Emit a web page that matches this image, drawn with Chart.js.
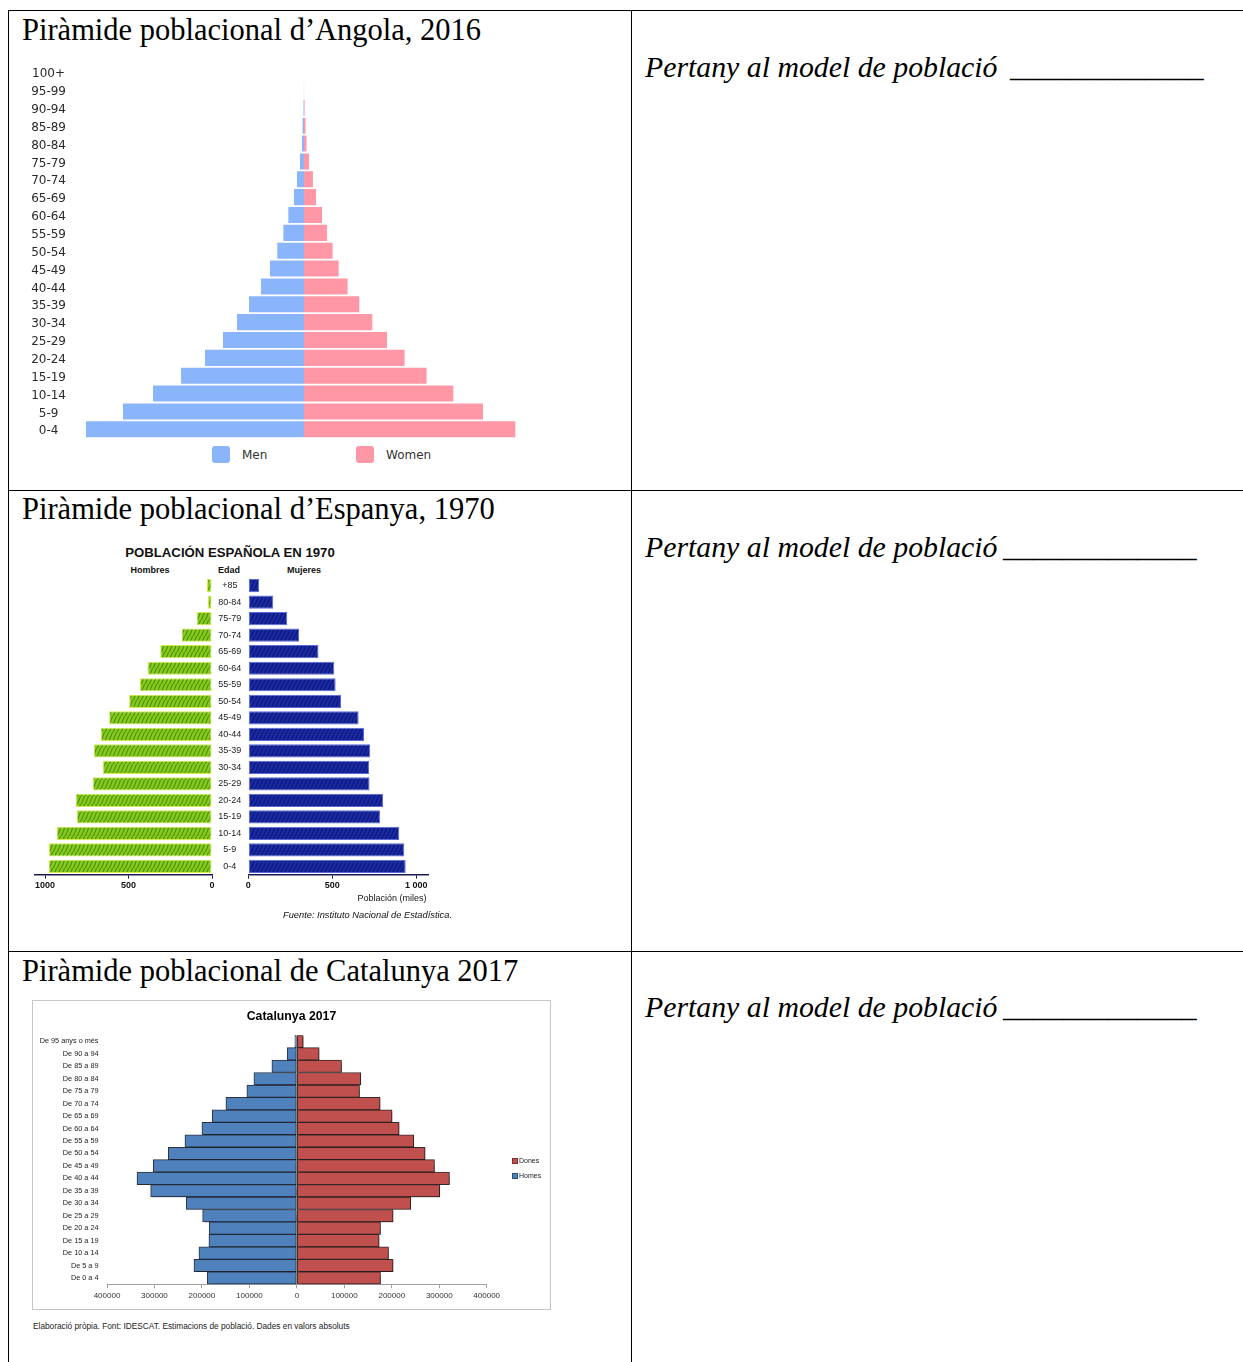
<!DOCTYPE html>
<html><head><meta charset="utf-8">
<script src="https://cdn.jsdelivr.net/npm/chart.js@4.4.1/dist/chart.umd.min.js"></script>
<style>
html,body{margin:0;padding:0;background:#fff;}
body{width:1243px;height:1362px;position:relative;overflow:hidden;font-family:"Liberation Sans",Arial,sans-serif;}
.ln{position:absolute;background:#000;}
.h{position:absolute;font-family:"Liberation Serif",serif;font-size:30.5px;line-height:30.5px;white-space:nowrap;color:#000;}
.q{position:absolute;font-family:"Liberation Serif",serif;font-style:italic;font-size:29.8px;line-height:29.8px;white-space:nowrap;color:#000;}
.t{position:absolute;white-space:nowrap;}
.box{position:absolute;}
.cw{position:absolute;}
</style></head><body>

<div class="ln" style="left:8px;top:10px;width:1235px;height:1px"></div>
<div class="ln" style="left:8px;top:10px;width:1px;height:1352px"></div>
<div class="ln" style="left:631px;top:10px;width:1px;height:1352px"></div>
<div class="ln" style="left:8px;top:490px;width:1235px;height:1px"></div>
<div class="ln" style="left:8px;top:951px;width:1235px;height:1px"></div>

<div class="h" style="left:22px;top:15px">Piràmide poblacional d’Angola, 2016</div>
<div class="h" style="left:22px;top:494px">Piràmide poblacional d’Espanya, 1970</div>
<div class="h" style="left:22px;top:956px">Piràmide poblacional de Catalunya 2017</div>

<div class="q" style="left:645px;top:52.3px">Pertany al model de població</div>
<div class="q" style="left:1010px;top:52.3px">_____________</div>
<div class="q" style="left:645px;top:532.3px">Pertany al model de població</div>
<div class="q" style="left:1003px;top:532.3px">_____________</div>
<div class="q" style="left:645px;top:992.3px">Pertany al model de població</div>
<div class="q" style="left:1003px;top:992.3px">_____________</div>

<!-- Angola -->
<div class="cw" style="left:20px;top:55.8px;width:510px;height:389.4px"><canvas id="cA"></canvas></div>
<div class="box" style="left:212px;top:446px;width:18px;height:17px;border-radius:3px;background:#8bb5fb"></div>
<div class="t" style="left:242px;top:447px;font:12px 'DejaVu Sans',sans-serif;line-height:16px;color:#333">Men</div>
<div class="box" style="left:356px;top:446px;width:18px;height:17px;border-radius:3px;background:#ff97a7"></div>
<div class="t" style="left:386px;top:447px;font:12px 'DejaVu Sans',sans-serif;line-height:16px;color:#333">Women</div>

<!-- Spain -->
<div class="t" style="left:100px;top:545px;width:260px;text-align:center;font:bold 13.2px 'Liberation Sans',Arial;line-height:16px;color:#111">POBLACIÓN ESPAÑOLA EN 1970</div>
<div class="t" style="left:110px;top:565px;width:80px;text-align:center;font:bold 9px 'Liberation Sans',Arial;line-height:10px;color:#111">Hombres</div>
<div class="t" style="left:199px;top:565px;width:60px;text-align:center;font:bold 9px 'Liberation Sans',Arial;line-height:10px;color:#111">Edad</div>
<div class="t" style="left:264px;top:565px;width:80px;text-align:center;font:bold 9px 'Liberation Sans',Arial;line-height:10px;color:#111">Mujeres</div>
<div class="cw" style="left:30px;top:571.6px;width:186px;height:324.7px"><canvas id="cEL"></canvas></div>
<div class="cw" style="left:212px;top:571.6px;width:228px;height:324.7px"><canvas id="cER"></canvas></div>
<div class="t" style="left:342px;top:893px;width:100px;text-align:center;font:9px 'Liberation Sans',Arial;line-height:10px;color:#111">Población (miles)</div>
<div class="t" style="left:283px;top:910px;font:italic 9.3px 'Liberation Sans',Arial;line-height:10px;color:#111">Fuente: Instituto Nacional de Estadística.</div>

<!-- Catalunya -->
<div class="box" style="left:32px;top:1000px;width:519px;height:310px;border:1px solid #c6c6c6;box-sizing:border-box"></div>
<div class="cw" style="left:33px;top:1001px;width:517px;height:308px"><canvas id="cC"></canvas></div>
<div class="box" style="left:512px;top:1158px;width:4px;height:4px;background:#c0504d;border:1px solid #7a2f2d"></div>
<div class="t" style="left:519px;top:1156px;font:7px 'Liberation Sans',Arial;line-height:9px;color:#222">Dones</div>
<div class="box" style="left:512px;top:1173px;width:4px;height:4px;background:#4f81bd;border:1px solid #2f4f75"></div>
<div class="t" style="left:519px;top:1171px;font:7px 'Liberation Sans',Arial;line-height:9px;color:#222">Homes</div>
<div class="t" style="left:33px;top:1321px;font:8.3px 'Liberation Sans',Arial;line-height:10px;color:#222">Elaboració pròpia. Font: IDESCAT. Estimacions de població. Dades en valors absoluts</div>

<script>
// ---------- Angola 2016 (thousands) ----------
const agesAngola = ['0-4','5-9','10-14','15-19','20-24','25-29','30-34','35-39','40-44','45-49','50-54','55-59','60-64','65-69','70-74','75-79','80-84','85-89','90-94','95-99','100+'];
const menAngola   = [2700,2242,1870,1523,1226,1003,830,681,533,421,331,256,194,124,87,50,25,17,6,1,0];
const womenAngola = [2617,2217,1849,1518,1246,1028,846,685,540,429,354,285,223,149,111,62,31,19,7,1,0];

// ---------- Espanya 1970 (miles) ----------
const agesSpain = ['0-4','5-9','10-14','15-19','20-24','25-29','30-34','35-39','40-44','45-49','50-54','55-59','60-64','65-69','70-74','75-79','80-84','+85'];
const menSpain   = [978,976,930,810,816,714,654,708,666,616,496,432,386,310,182,92,24,30];
const womenSpain = [937,929,899,784,802,722,720,726,689,657,552,520,512,418,302,232,149,65];
const spainTicks = [0,500,1000];

// ---------- Catalunya 2017 ----------
const agesCat = ['De 0 a 4','De 5 a 9','De 10 a 14','De 15 a 19','De 20 a 24','De 25 a 29','De 30 a 34','De 35 a 39','De 40 a 44','De 45 a 49','De 50 a 54','De 55 a 59','De 60 a 64','De 65 a 69','De 70 a 74','De 75 a 79','De 80 a 84','De 85 a 89','De 90 a 94','De 95 anys o més'];
const homesCat = [188800,216800,206300,185300,184600,198500,233100,308000,336800,302500,270900,235800,200000,178300,149500,105300,90500,52600,20400,4200];
const donesCat = [176200,202700,193100,173300,176200,202700,240000,301100,321500,289900,270100,246300,215400,200600,175400,132000,134700,94100,46900,13300];

Chart.defaults.animation = false;
Chart.defaults.responsive = true;
Chart.defaults.maintainAspectRatio = false;
Chart.defaults.plugins.tooltip.enabled = false;

// Angola
new Chart(document.getElementById('cA'), {
  type: 'bar',
  data: { labels: agesAngola, datasets: [
    { label: 'Men', data: menAngola.map(v => -v), backgroundColor: '#8bb5fb', borderWidth: 0, barPercentage: 0.9, categoryPercentage: 1 },
    { label: 'Women', data: womenAngola, backgroundColor: '#ff97a7', borderWidth: 0, barPercentage: 0.9, categoryPercentage: 1 }
  ]},
  options: {
    indexAxis: 'y',
    layout: { padding: { top: 0, bottom: 0, left: 0, right: 8 } },
    plugins: { legend: { display: false } },
    scales: {
      x: { stacked: true, min: -2700, max: 2700, display: false },
      y: { stacked: true, reverse: true,
           grid: { display: false, drawTicks: true, tickLength: 20 }, border: { display: false },
           ticks: { crossAlign: 'center', padding: 0, labelOffset: 2, color: '#2a2a2a', font: { family: 'DejaVu Sans', size: 12 }, autoSkip: false },
           afterFit: s => { s.width = 66; } }
    }
  }
});

// Spain patterns
function hatch(base, line) {
  const c = document.createElement('canvas'); c.width = 4; c.height = 8;
  const g = c.getContext('2d');
  g.fillStyle = base; g.fillRect(0, 0, 4, 8);
  g.strokeStyle = line; g.lineWidth = 1.2;
  g.beginPath(); g.moveTo(-1, 9); g.lineTo(3, -1); g.stroke();
  g.beginPath(); g.moveTo(3, 9); g.lineTo(7, -1); g.stroke();
  return g.createPattern(c, 'repeat');
}
const greenFill = hatch('#86cc1c', '#4f8f12');
const blueFill = hatch('#1b2ba8', '#0c1670');
const axisFont = { family: 'Liberation Sans', size: 9, weight: 'bold' };

new Chart(document.getElementById('cEL'), {
  type: 'bar',
  data: { labels: agesSpain, datasets: [
    { label: 'Hombres', data: menSpain, backgroundColor: greenFill, borderColor: '#d6ea4a', borderWidth: 1, borderSkipped: false, barPercentage: 0.8, categoryPercentage: 1 }
  ]},
  options: {
    indexAxis: 'y',
    layout: { padding: { top: 5.4, bottom: 0, left: 5, right: 4 } },
    plugins: { legend: { display: false } },
    scales: {
      x: { reverse: true, min: 0, max: 1060, afterBuildTicks: s => { s.ticks = spainTicks.map(v => ({ value: v })); },
           grid: { display: true, drawOnChartArea: false, tickLength: 4, color: '#1a1a50' },
           border: { display: true, color: '#1a1a50', width: 1.5 },
           ticks: { color: '#111', font: axisFont, padding: 1, maxRotation: 0, callback: v => String(v) },
           afterFit: s => { s.height = 22; } },
      y: { display: false, reverse: true }
    }
  }
});

new Chart(document.getElementById('cER'), {
  type: 'bar',
  data: { labels: agesSpain, datasets: [
    { label: 'Mujeres', data: womenSpain, backgroundColor: blueFill, borderColor: '#5a6ad8', borderWidth: 1, borderSkipped: false, barPercentage: 0.8, categoryPercentage: 1 }
  ]},
  options: {
    indexAxis: 'y',
    layout: { padding: { top: 0, bottom: 0, left: 0, right: 12 } },
    plugins: { legend: { display: false } },
    scales: {
      x: { min: 0, max: 1070, afterBuildTicks: s => { s.ticks = spainTicks.map(v => ({ value: v })); },
           grid: { display: true, drawOnChartArea: false, tickLength: 4, color: '#1a1a50' },
           border: { display: true, color: '#1a1a50', width: 1.5 },
           ticks: { color: '#111', font: axisFont, padding: 1, maxRotation: 0, callback: v => v === 1000 ? '1 000' : String(v) },
           afterFit: s => { s.height = 22; } },
      y: { reverse: true, grid: { display: false, drawTicks: true, tickLength: 7 }, border: { display: false },
           ticks: { crossAlign: 'center', padding: 0, color: '#222', font: { family: 'Liberation Sans', size: 9 }, autoSkip: false },
           afterFit: s => { s.width = 36.3; } }
    }
  }
});

// Catalunya
const shadowPlugin = {
  id: 'barShadow',
  beforeDatasetsDraw(chart) { const c = chart.ctx; c.save(); c.shadowColor = 'rgba(0,0,0,0.35)'; c.shadowOffsetX = 1.5; c.shadowOffsetY = 1.5; c.shadowBlur = 1.5; },
  afterDatasetsDraw(chart) { chart.ctx.restore(); }
};
new Chart(document.getElementById('cC'), {
  type: 'bar',
  data: { labels: agesCat, datasets: [
    { label: 'Dones', data: donesCat, backgroundColor: '#c0504d', borderColor: '#3a2a2a', borderWidth: 1, borderSkipped: false, barPercentage: 1, categoryPercentage: 1 },
    { label: 'Homes', data: homesCat.map(v => -v), backgroundColor: '#4f81bd', borderColor: '#2a3040', borderWidth: 1, borderSkipped: false, barPercentage: 1, categoryPercentage: 1 }
  ]},
  plugins: [shadowPlugin],
  options: {
    indexAxis: 'y',
    layout: { padding: { top: 0, bottom: 4.8, left: 0, right: 0 } },
    plugins: {
      legend: { display: false },
      title: { display: true, text: 'Catalunya 2017', color: '#000', font: { family: 'Liberation Sans', size: 12.3, weight: 'bold' }, padding: { top: 8, bottom: 11.4 } }
    },
    scales: {
      x: { stacked: true, min: -400000, max: 400000,
           ticks: { stepSize: 100000, color: '#333', font: { family: 'Liberation Sans', size: 8 }, padding: 3, maxRotation: 0, callback: v => String(Math.abs(v)) },
           grid: { display: true, drawOnChartArea: false, tickLength: 4, color: '#a0a0a0' },
           border: { display: true, color: '#a0a0a0' },
           afterFit: s => { s.height = 20; } },
      y: { stacked: true, reverse: true, grid: { display: false, drawTicks: false }, border: { display: false },
           ticks: { padding: 8.5, color: '#222', font: { family: 'Liberation Sans', size: 7.3 }, autoSkip: false },
           afterFit: s => { s.width = 74; } },
      yLegendSpace: { type: 'category', position: 'right', labels: agesCat,
           grid: { display: false, drawTicks: false }, border: { display: false }, ticks: { display: false },
           afterFit: s => { s.width = 63.3; } }
    }
  }
});
</script>
</body></html>
